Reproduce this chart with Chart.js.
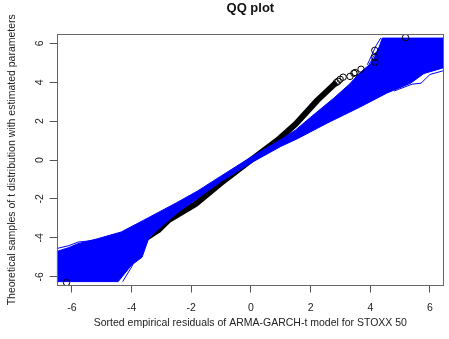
<!DOCTYPE html>
<html>
<head>
<meta charset="utf-8">
<script src="https://cdn.jsdelivr.net/npm/chart.js@4.4.0/dist/chart.umd.min.js"></script>
<style>
  html, body { margin: 0; padding: 0; background: #fff; }
  #wrap { width: 449px; height: 339px; }
</style>
</head>
<body>
<div id="wrap"><canvas id="qqChart" width="449" height="339"></canvas></div>
<script>
// tick labels
const xTicks = [-6, -4, -2, 0, 2, 4, 6];
const yTicks = [-6, -4, -2, 0, 2, 4, 6];

// empirical residuals vs theoretical t quantiles (dense middle part)
const blackX = [-4.6, -3.6, -3.1, -2.75, -1.85, -1.0, 0, 0.9, 1.5, 2.23, 2.8];
const blackY = [-5.1, -4.1, -3.6, -3.08, -2.25, -1.18, 0, 1.03, 1.85, 3.08, 3.9];

// isolated tail points
const tailX = [-6.18, 2.86, 2.92, 2.99, 3.09, 3.32, 3.45, 3.49, 3.69, 4.15, 4.15, 4.15, 5.18];
const tailY = [-6.3, 3.98, 4.05, 4.15, 4.26, 4.3, 4.46, 4.5, 4.67, 5.03, 5.28, 5.64, 6.3];

// envelope of the simulated QQ lines: upper/left edge (left to right)
const bandUpX = [-6.51, -6.1, -5.8, -5.15, -4.35, -3.42, -2.5, -1.8, -1.0, 0, 1.0, 1.5, 2.0, 2.79, 3.3, 3.66, 4.05, 4.25, 4.4, 6.47];
const bandUpY = [-4.7, -4.5, -4.3, -4.05, -3.7, -2.95, -2.2, -1.6, -0.82, 0.15, 1.05, 1.55, 2.2, 3.2, 3.9, 4.5, 5.0, 5.6, 6.27, 6.27];
// lower/right edge (right to left)
const bandLoX = [6.47, 5.8, 5.35, 4.55, 3.65, 2.56, 1.56, 1.0, 0, -1.0, -1.86, -2.5, -3.1, -3.42, -3.65, -4.0, -4.45, -6.51];
const bandLoY = [4.75, 4.45, 3.95, 3.44, 2.72, 1.9, 1.1, 0.7, -0.15, -1.1, -2.05, -2.75, -3.55, -4.0, -5.0, -5.4, -6.25, -6.25];

// single simulated lines that stick out of the band
const lowBumpX = [-6.51, -6.1, -5.8, -5.2, -4.7, -4.2];
const lowBumpY = [-4.55, -4.4, -4.22, -4.12, -3.95, -3.7];
const lowSpikeAX = [-4.1, -4.5, -4.7];
const lowSpikeAY = [-4.9, -5.8, -6.25];
const lowSpikeBX = [-3.7, -4.0, -4.3];
const lowSpikeBY = [-4.5, -5.5, -6.25];
const upSpikeAX = [3.9, 4.2, 4.35];
const upSpikeAY = [4.9, 5.9, 6.27];
const upSpikeBX = [3.85, 4.1, 4.5];
const upSpikeBY = [4.6, 5.3, 6.27];
const upKinkX = [4.8, 5.4, 5.7, 6.0, 6.47];
const upKinkY = [3.55, 3.9, 3.95, 4.4, 4.6];

const toPts = (xs, ys) => xs.map((x, i) => ({ x: x, y: ys[i] }));
const bandPts = toPts(bandUpX, bandUpY).concat(toPts(bandLoX, bandLoY));

const font = 'Liberation Sans, Arial, sans-serif';

const blueLine = (xs, ys) => ({
    data: toPts(xs, ys),
    showLine: true,
    borderColor: '#0000ff',
    borderWidth: 1,
    pointRadius: 0,
    order: 1,
});

const boxPlugin = {
    id: 'box',
    afterDraw(chart) {
        const { ctx, chartArea: a } = chart;
        ctx.save();
        ctx.strokeStyle = '#666';
        ctx.lineWidth = 1;
        ctx.strokeRect(Math.round(a.left) + 0.5, Math.round(a.top) + 0.5,
            Math.round(a.right - a.left) - 1, Math.round(a.bottom - a.top) - 1);
        ctx.restore();
    },
};

new Chart(document.getElementById('qqChart').getContext('2d'), {
    type: 'scatter',
    data: {
        datasets: [
            {
                data: toPts(tailX, tailY),
                pointRadius: 3.2,
                pointBorderWidth: 1,
                pointBorderColor: '#000',
                pointBackgroundColor: 'rgba(0,0,0,0)',
                order: 0,
            },
            {
                data: bandPts,
                showLine: true,
                fill: 'shape',
                backgroundColor: '#0000ff',
                borderColor: '#0000ff',
                borderWidth: 1,
                pointRadius: 0,
                order: 1,
            },
            blueLine(lowBumpX, lowBumpY),
            blueLine(lowSpikeAX, lowSpikeAY),
            blueLine(lowSpikeBX, lowSpikeBY),
            blueLine(upSpikeAX, upSpikeAY),
            blueLine(upSpikeBX, upSpikeBY),
            blueLine(upKinkX, upKinkY),
            {
                data: toPts(blackX, blackY),
                showLine: true,
                borderColor: '#000',
                borderWidth: 6,
                borderCapStyle: 'round',
                borderJoinStyle: 'round',
                pointRadius: 0,
                order: 2,
            },
        ],
    },
    options: {
        responsive: false,
        animation: false,
        devicePixelRatio: 1,
        layout: { padding: { left: 0, right: 1, top: 0, bottom: 0 } },
        plugins: {
            legend: { display: false },
            tooltip: { enabled: false },
            title: {
                display: true,
                text: 'QQ plot',
                fullSize: false,
                color: '#111',
                font: { family: font, size: 13, weight: 'bold' },
                padding: { top: 1, bottom: 17.4 },
            },
        },
        scales: {
            x: {
                type: 'linear',
                min: -6.51,
                max: 6.47,
                afterBuildTicks: (s) => { s.ticks = xTicks.map((v) => ({ value: v })); },
                afterFit: (s) => { s.height = 53.5; },
                border: { display: false },
                grid: { drawOnChartArea: false, drawTicks: true, tickLength: 7, tickColor: '#555' },
                ticks: { color: '#222', padding: 9, maxRotation: 0, font: { family: font, size: 10.5 } },
                title: {
                    display: true,
                    text: 'Sorted empirical residuals of ARMA-GARCH-t model for STOXX 50',
                    color: '#222',
                    font: { family: font, size: 10.5 },
                    padding: { top: 0, bottom: 10 },
                },
            },
            y: {
                type: 'linear',
                min: -6.45,
                max: 6.48,
                afterBuildTicks: (s) => { s.ticks = yTicks.map((v) => ({ value: v })); },
                afterFit: (s) => { s.width = 56.7; },
                border: { display: false },
                grid: { drawOnChartArea: false, drawTicks: true, tickLength: 7, tickColor: '#555' },
                ticks: { color: '#222', padding: 5, minRotation: 90, maxRotation: 90, crossAlign: 'center', font: { family: font, size: 10.5 } },
                title: {
                    display: true,
                    text: 'Theoretical samples of t distribution with estimated parameters',
                    color: '#222',
                    font: { family: font, size: 10.5 },
                    padding: { top: 5.6, bottom: 0 },
                },
            },
        },
    },
    plugins: [boxPlugin],
});
</script>
</body>
</html>
